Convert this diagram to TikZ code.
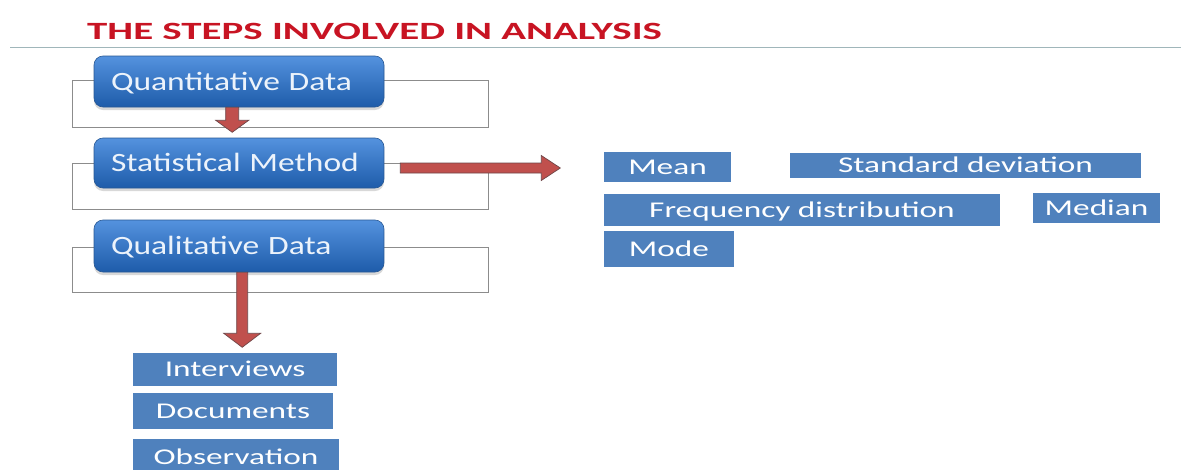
\documentclass[tikz,border=0pt]{standalone}
\usepackage{fontspec}
\setmainfont{Carlito}
\newfontfamily\titlefont{Carlito}[FakeStretch=1.65]
\newfontfamily\stepfont{Carlito}[FakeStretch=1.27]
\newfontfamily\itemfont{Carlito}[FakeStretch=1.48]
\usetikzlibrary{calc,shadows}
\definecolor{titlered}{RGB}{200,20,35}
\definecolor{rulegray}{RGB}{160,182,186}
\definecolor{itemblue}{RGB}{79,129,189}
\definecolor{steptop}{RGB}{84,146,222}
\definecolor{stepbot}{RGB}{30,92,170}
\definecolor{stepedge}{RGB}{40,88,148}
\definecolor{steptext}{RGB}{236,243,251}
\definecolor{arrowred}{RGB}{192,80,77}
\definecolor{arrowedge}{RGB}{110,70,72}
\definecolor{bracketgray}{RGB}{140,140,140}
\tikzset{
  stepbox/.style={rectangle, rounded corners=9pt, top color=steptop,
    bottom color=stepbot, draw=stepedge, line width=0.6pt,
    drop shadow={shadow xshift=0pt, shadow yshift=-3pt, opacity=0.3},
    minimum width=290pt, inner xsep=17pt, inner ysep=0pt,
    text width=256pt, align=left, text=steptext,
    font=\stepfont\fontsize{26.4}{30}\selectfont,
    text height=17pt, text depth=0pt},
  itembox/.style={rectangle, fill=itemblue, inner sep=0pt, text=white,
    font=\itemfont\fontsize{22.5}{26}\selectfont,
    text height=14.5pt, text depth=0pt},
  bracket/.style={draw=bracketgray, line width=0.8pt},
  redarrow/.style={fill=arrowred, draw=arrowedge, line width=0.7pt, line join=miter},
}
\begin{document}
\begin{tikzpicture}[x=1pt,y=-1pt]
  \fill[white] (0,0) rectangle (1181,469);
  \useasboundingbox (0,0) rectangle (1181,469);

  % heading and rule
  \node[anchor=base west, inner sep=0pt, text=titlered,
        font=\titlefont\bfseries\fontsize{24.8}{28}\selectfont] (title) at (87,39.5)
        {THE STEPS INVOLVED IN ANALYSIS};
  \draw[rulegray, line width=1pt] (10,47) -- (1181,47);

  % frames behind the three steps
  \draw[bracket] (72,80) rectangle (488,127);
  \draw[bracket] (72,163) rectangle (488,209);
  \draw[bracket] (72,247) rectangle (488,292);

  % the three steps
  \node[stepbox, minimum height=51pt] (Q) at (239,81.5) {Quantitative Data};
  \node[stepbox, minimum height=50pt] (S) at (239,163) {Statistical Method};
  \node[stepbox, minimum height=52pt] (L) at (239,246) {Qualitative Data};

  % statistical measures
  \node[itembox, minimum width=127pt, minimum height=30pt] (mean) at (667.5,167) {Mean};
  \node[itembox, minimum width=351pt, minimum height=25pt] (sd) at (965.5,165.5) {Standard deviation};
  \node[itembox, minimum width=396pt, minimum height=32pt] (freq) at (802,210) {Frequency distribution};
  \node[itembox, minimum width=127pt, minimum height=30pt] (median) at (1096.5,208) {Median};
  \node[itembox, minimum width=130pt, minimum height=36pt] (mode) at (669,249) {Mode};

  % qualitative sources
  \node[itembox, minimum width=204pt, minimum height=33pt] (interviews) at (235,369.5) {Interviews};
  \node[itembox, minimum width=200pt, minimum height=36pt] (documents) at (233,411) {Documents};
  \node[itembox, minimum width=206pt, minimum height=36pt] (observation) at (236,457) {Observation};

  % block arrows
  \draw[redarrow] ($(Q.south west)+(132,0)$) -- ++(0,13) -- ++(-10,0)
        -- ++(16.5,12) -- ++(16.5,-12) -- ++(-10,0) -- ++(0,-13) -- cycle;
  \draw[redarrow] ($(S.east)+(16,0)$) -- ++(141,0) -- ++(0,-7.5)
        -- ++(19,12.5) -- ++(-19,12.5) -- ++(0,-7.5) -- ++(-141,0) -- cycle;
  \draw[redarrow] ($(L.south west)+(143,0)$) -- ++(0,61) -- ++(-13,0)
        -- ++(18.5,14) -- ++(18.5,-14) -- ++(-13,0) -- ++(0,-61) -- cycle;
\end{tikzpicture}
\end{document}
